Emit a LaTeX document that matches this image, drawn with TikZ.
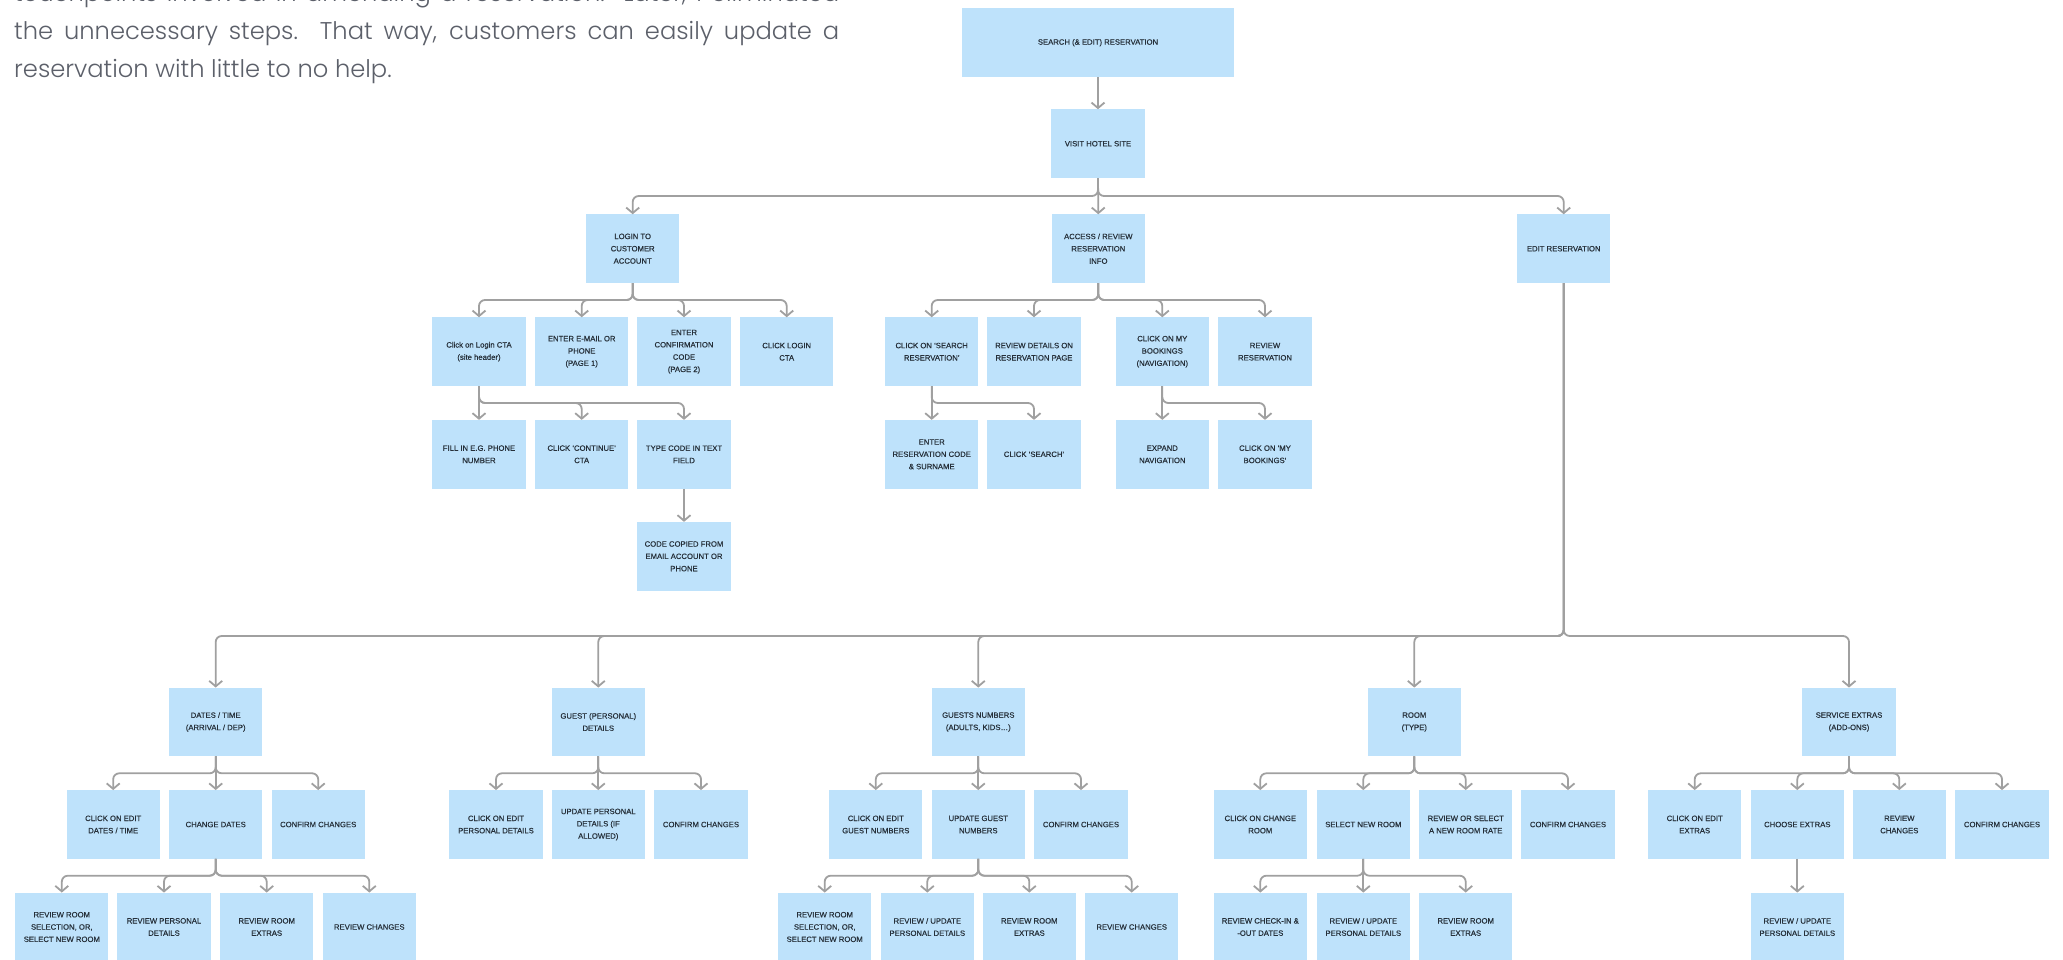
\documentclass[tikz,border=0pt]{standalone}
\usepackage{fontspec}
\usetikzlibrary{arrows.meta}
\setmainfont{Liberation Sans}
\newfontfamily\boxfont{Liberation Sans}[FakeBold=0.5]
\IfFontExistsTF{Poppins Light}{\newfontfamily\parafont{Poppins Light}}{\newfontfamily\parafont{Poppins}}

\definecolor{boxblue}{RGB}{190,226,251}
\definecolor{boxtext}{RGB}{38,48,58}
\definecolor{linegrey}{RGB}{160,160,160}
\definecolor{paratext}{RGB}{92,96,106}

% parent -> child through a horizontal bus at height #3
\newcommand\branch[3]{\draw[conn] (#1.south) |- (#2.north |- 0,#3) -- (#2.north);}
% parent -> child straight below
\newcommand\drop[2]{\draw[conn] (#1.south) -- (#2.north);}

\tikzset{
  box/.style={fill=boxblue, text=boxtext, minimum width=93.3pt, minimum height=68.5pt,
    inner sep=0pt, align=center, font=\boxfont\fontsize{7.7}{12.3}\selectfont},
  topbox/.style={box, minimum width=272pt},
  conn/.style={draw=linegrey, line width=1.8pt, rounded corners=6pt,
    -{Straight Barb[length=5.5pt,width=13pt]}},
  para/.style={inner sep=0pt, text=paratext, font=\parafont\fontsize{24.2}{29}\selectfont},
}

\begin{document}
\begin{tikzpicture}[x=1pt,y=-1pt]
\useasboundingbox (0,0) rectangle (2063,960);
\clip (0,0) rectangle (2063,960);
\fill[white] (0,0) rectangle (2063,960);

% introductory paragraph
\node[para, anchor=base west] (p1) at (14,2) {\makebox[825pt][s]{touchpoints involved in amending a reservation.\ \ Later, I eliminated}};
\node[para, anchor=base west] (p2) at (14,40) {\makebox[825pt][s]{the unnecessary steps.\ \ That way, customers can easily update a}};
\node[para, anchor=base west] (p3) at (14,78) {reservation with little to no help.};

% upper tree
\node[topbox] (top) at (1098,42.7) {SEARCH (\& EDIT) RESERVATION};
\node[box] (visit) at (1098,143.7) {VISIT HOTEL SITE};
\node[box] (login) at (632.7,248.7) {LOGIN TO\\CUSTOMER\\ACCOUNT};
\node[box] (access) at (1098.3,248.7) {ACCESS / REVIEW\\RESERVATION\\INFO};
\node[box] (edit) at (1563.7,248.7) {EDIT RESERVATION};

\node[box] (lg1) at (479,351.7) {Click on Login CTA\\(site header)};
\node[box] (lg2) at (581.7,351.7) {ENTER E-MAIL OR\\PHONE\\(PAGE 1)};
\node[box] (lg3) at (684,351.7) {ENTER\\CONFIRMATION\\CODE\\(PAGE 2)};
\node[box] (lg4) at (786.7,351.7) {CLICK LOGIN\\CTA};
\node[box] (ac1) at (931.7,351.7) {CLICK ON ‘SEARCH\\RESERVATION’};
\node[box] (ac2) at (1034,351.7) {REVIEW DETAILS ON\\RESERVATION PAGE};
\node[box] (ac3) at (1162.3,351.7) {CLICK ON MY\\BOOKINGS\\(NAVIGATION)};
\node[box] (ac4) at (1265,351.7) {REVIEW\\RESERVATION};

\node[box] (lgc1) at (479,454.3) {FILL IN E.G. PHONE\\NUMBER};
\node[box] (lgc2) at (581.7,454.3) {CLICK ‘CONTINUE’\\CTA};
\node[box] (lgc3) at (684,454.3) {TYPE CODE IN TEXT\\FIELD};
\node[box] (acs1) at (931.7,454.3) {ENTER\\RESERVATION CODE\\\& SURNAME};
\node[box] (acs2) at (1034,454.3) {CLICK ‘SEARCH’};
\node[box] (acb1) at (1162.3,454.3) {EXPAND\\NAVIGATION};
\node[box] (acb2) at (1265,454.3) {CLICK ON ‘MY\\BOOKINGS’};

\node[box] (code) at (684,556.3) {CODE COPIED FROM\\EMAIL ACCOUNT OR\\PHONE};

% edit categories
\node[box] (dates) at (215.7,722) {DATES / TIME\\(ARRIVAL / DEP)};
\node[box] (guest) at (598.3,722) {GUEST (PERSONAL)\\DETAILS};
\node[box] (gnum) at (978.3,722) {GUESTS NUMBERS\\(ADULTS, KIDS…)};
\node[box] (room) at (1414.3,722) {ROOM\\(TYPE)};
\node[box] (extras) at (1849,722) {SERVICE EXTRAS\\(ADD-ONS)};

\node[box] (d1) at (113.2,824.5) {CLICK ON EDIT\\DATES / TIME};
\node[box] (d2) at (215.7,824.5) {CHANGE DATES};
\node[box] (d3) at (318.2,824.5) {CONFIRM CHANGES};
\node[box] (g1) at (496,824.5) {CLICK ON EDIT\\PERSONAL DETAILS};
\node[box] (g2) at (598.3,824.5) {UPDATE PERSONAL\\DETAILS (IF\\ALLOWED)};
\node[box] (g3) at (701,824.5) {CONFIRM CHANGES};
\node[box] (n1) at (875.8,824.5) {CLICK ON EDIT\\GUEST NUMBERS};
\node[box] (n2) at (978.3,824.5) {UPDATE GUEST\\NUMBERS};
\node[box] (n3) at (1081,824.5) {CONFIRM CHANGES};
\node[box] (r1) at (1260.3,824.5) {CLICK ON CHANGE\\ROOM};
\node[box] (r2) at (1363.3,824.5) {SELECT NEW ROOM};
\node[box] (r3) at (1465.7,824.5) {REVIEW OR SELECT\\A NEW ROOM RATE};
\node[box] (r4) at (1568,824.5) {CONFIRM CHANGES};
\node[box] (e1) at (1694.7,824.5) {CLICK ON EDIT\\EXTRAS};
\node[box] (e2) at (1797.3,824.5) {CHOOSE EXTRAS};
\node[box] (e3) at (1899.3,824.5) {REVIEW\\CHANGES};
\node[box] (e4) at (2002,824.5) {CONFIRM CHANGES};

\node[box] (d21) at (61.8,927) {REVIEW ROOM\\SELECTION, OR,\\SELECT NEW ROOM};
\node[box] (d22) at (164,927) {REVIEW PERSONAL\\DETAILS};
\node[box] (d23) at (266.7,927) {REVIEW ROOM\\EXTRAS};
\node[box] (d24) at (369.3,927) {REVIEW CHANGES};
\node[box] (n21) at (824.7,927) {REVIEW ROOM\\SELECTION, OR,\\SELECT NEW ROOM};
\node[box] (n22) at (927.3,927) {REVIEW / UPDATE\\PERSONAL DETAILS};
\node[box] (n23) at (1029.3,927) {REVIEW ROOM\\EXTRAS};
\node[box] (n24) at (1131.7,927) {REVIEW CHANGES};
\node[box] (r21) at (1260.3,927) {REVIEW CHECK-IN \&\\-OUT DATES};
\node[box] (r22) at (1363.3,927) {REVIEW / UPDATE\\PERSONAL DETAILS};
\node[box] (r23) at (1465.7,927) {REVIEW ROOM\\EXTRAS};
\node[box] (e21) at (1797.3,927) {REVIEW / UPDATE\\PERSONAL DETAILS};

% connectors
\drop{top}{visit}
\drop{visit}{access}
\branch{visit}{login}{196}
\branch{visit}{edit}{196}

\foreach \c in {lg1,lg2,lg3,lg4} {\branch{login}{\c}{300}}
\drop{lg1}{lgc1}
\branch{lg1}{lgc2}{403}
\branch{lg1}{lgc3}{403}
\drop{lgc3}{code}

\foreach \c in {ac1,ac2,ac3,ac4} {\branch{access}{\c}{300}}
\drop{ac1}{acs1}
\branch{ac1}{acs2}{403}
\drop{ac3}{acb1}
\branch{ac3}{acb2}{403}

\foreach \c in {dates,guest,gnum,room,extras} {\branch{edit}{\c}{636}}

\branch{dates}{d1}{773.3}
\drop{dates}{d2}
\branch{dates}{d3}{773.3}
\foreach \c in {d21,d22,d23,d24} {\branch{d2}{\c}{875.7}}

\branch{guest}{g1}{773.3}
\drop{guest}{g2}
\branch{guest}{g3}{773.3}

\branch{gnum}{n1}{773.3}
\drop{gnum}{n2}
\branch{gnum}{n3}{773.3}
\foreach \c in {n21,n22,n23,n24} {\branch{n2}{\c}{875.7}}

\foreach \c in {r1,r2,r3,r4} {\branch{room}{\c}{773.3}}
\branch{r2}{r21}{875.7}
\drop{r2}{r22}
\branch{r2}{r23}{875.7}

\foreach \c in {e1,e2,e3,e4} {\branch{extras}{\c}{773.3}}
\drop{e2}{e21}
\end{tikzpicture}
\end{document}
